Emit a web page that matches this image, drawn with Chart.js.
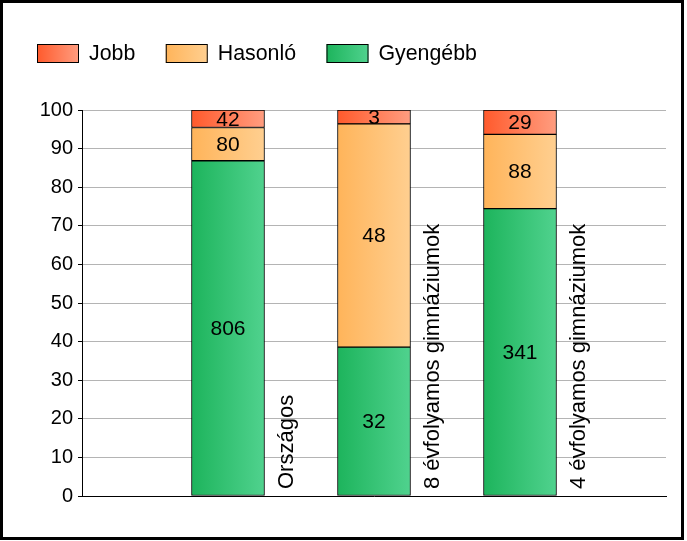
<!DOCTYPE html>
<html>
<head>
<meta charset="utf-8">
<script src="https://cdn.jsdelivr.net/npm/chart.js@4.4.1/dist/chart.umd.min.js"></script>
<style>
  html, body { margin: 0; padding: 0; background: #fff; }
</style>
</head>
<body>
<canvas id="chart" width="687" height="541"></canvas>
<script>
/* stacked 100% bars — Jobb / Hasonló / Gyengébb */

// ── DATA ───────────────────────────────────────────────────────
const categories = ['Országos', '8 évfolyamos gimnáziumok', '4 évfolyamos gimnáziumok'];
const seriesNames = ['Jobb', 'Hasonló', 'Gyengébb'];
const jobb     = [42, 3, 29];
const hasonlo  = [80, 48, 88];
const gyengebb = [806, 32, 341];
const yMin = 0, yMax = 100, yStep = 10;

// ── STYLE ──────────────────────────────────────────────────────
const FONT = '"Liberation Sans", Arial, sans-serif';
const BAR_W = 73;
const GRAD = {
  Jobb:     ['#ff5a2c', '#ff9d80'],
  Hasonló:  ['#ffb45a', '#ffcf90'],
  Gyengébb: ['#1db45c', '#50d28e'],
};

// share of each count in its category, for the 100% stack
const totals = categories.map((_, i) => jobb[i] + hasonlo[i] + gyengebb[i]);
const pct = arr => arr.map((v, i) => v / totals[i] * 100);
// empty slot at each end so the bars sit on the inner ticks
const pad = arr => [null, ...arr, null];

function barGradient(c, cols) {
  const xs = c.chart.scales.x;
  if (!xs || c.dataIndex == null) return cols[0];
  const x = xs.getPixelForValue(c.dataIndex);
  if (!isFinite(x)) return cols[0];
  const g = c.chart.ctx.createLinearGradient(x - BAR_W / 2, 0, x + BAR_W / 2, 0);
  g.addColorStop(0, cols[0]);
  g.addColorStop(1, cols[1]);
  return g;
}

function makeDataset(name, counts) {
  return {
    label: name,
    counts: pad(counts),
    data: pad(pct(counts)),
    backgroundColor: c => barGradient(c, GRAD[name]),
    borderColor: '#000',
    borderWidth: 1,
    borderSkipped: false,
    barThickness: BAR_W,
  };
}

// ── PLUGINS ────────────────────────────────────────────────────
const frame = {
  id: 'frame',
  beforeDraw(chart) {
    const ctx = chart.ctx;
    ctx.save();
    ctx.fillStyle = '#fff';
    ctx.fillRect(0, 0, chart.width, chart.height);
    ctx.restore();
  },
  afterDraw(chart) {
    const ctx = chart.ctx;
    ctx.save();
    ctx.strokeStyle = '#000';
    ctx.lineWidth = 3;
    ctx.strokeRect(1.5, 1.5, 681, 537);
    ctx.restore();
  },
};

// legend with gradient boxes, drawn by hand
const legendBoxes = {
  id: 'legendBoxes',
  afterDraw(chart) {
    const ctx = chart.ctx;
    ctx.save();
    ctx.font = `21.33px ${FONT}`;
    ctx.textBaseline = 'middle';
    ctx.textAlign = 'left';
    let x = 37;
    seriesNames.forEach(name => {
      const g = ctx.createLinearGradient(x, 0, x + 42, 0);
      g.addColorStop(0, GRAD[name][0]);
      g.addColorStop(1, GRAD[name][1]);
      ctx.fillStyle = g;
      ctx.fillRect(x, 44, 42, 19);
      ctx.strokeStyle = '#000';
      ctx.lineWidth = 1;
      ctx.strokeRect(x + 0.5, 44.5, 41, 18);
      ctx.fillStyle = '#000';
      ctx.fillText(name, x + 52, 54);
      x += 52 + ctx.measureText(name).width + 30.5;
    });
    ctx.restore();
  },
};

// count labels in the middle of each segment
const valueLabels = {
  id: 'valueLabels',
  afterDatasetsDraw(chart) {
    const ctx = chart.ctx;
    ctx.save();
    ctx.font = `21px ${FONT}`;
    ctx.fillStyle = '#000';
    ctx.textAlign = 'center';
    ctx.textBaseline = 'middle';
    chart.data.datasets.forEach((ds, d) => {
      chart.getDatasetMeta(d).data.forEach((bar, i) => {
        if (ds.counts[i] == null) return;
        const { x, y, base } = bar.getProps(['x', 'y', 'base'], true);
        ctx.fillText(String(ds.counts[i]), x, (y + base) / 2 + 1);
      });
    });
    ctx.restore();
  },
};

// rotated category names, right of each bar
const categoryLabels = {
  id: 'categoryLabels',
  afterDraw(chart) {
    const { ctx, scales: { x: xs, y: ys } } = chart;
    ctx.save();
    ctx.font = `22px ${FONT}`;
    ctx.fillStyle = '#000';
    ctx.textAlign = 'left';
    ctx.textBaseline = 'alphabetic';
    categories.forEach((name, i) => {
      ctx.save();
      ctx.translate(xs.getPixelForValue(i + 1) + 65, ys.bottom - 7);
      ctx.rotate(-Math.PI / 2);
      ctx.fillText(name, 0, 0);
      ctx.restore();
    });
    ctx.restore();
  },
};

// ── CHART ──────────────────────────────────────────────────────
const chart = new Chart(document.getElementById('chart').getContext('2d'), {
  type: 'bar',
  data: {
    labels: pad(categories.map(() => '')),
    datasets: [
      makeDataset('Gyengébb', gyengebb),
      makeDataset('Hasonló', hasonlo),
      makeDataset('Jobb', jobb),
    ],
  },
  options: {
    responsive: false,
    animation: false,
    layout: { padding: { top: 110, right: 21, bottom: 45, left: 0 } },
    plugins: {
      legend: { display: false },
      tooltip: { enabled: false },
    },
    scales: {
      x: {
        stacked: true,
        offset: false,
        grid: { display: false },
        ticks: { display: false },
        border: { color: '#000', width: 1 },
        afterFit: s => { s.height = 0; },
      },
      y: {
        stacked: true,
        min: yMin, max: yMax,
        ticks: {
          stepSize: yStep,
          color: '#000',
          padding: 5,
          font: { size: 20, family: FONT },
        },
        grid: { color: '#b4b4b4', tickColor: '#000', tickLength: 4 },
        border: { color: '#000', width: 1 },
        afterFit: s => { s.width = 82; },
      },
    },
  },
  plugins: [frame, legendBoxes, valueLabels, categoryLabels],
});
</script>
</body>
</html>
